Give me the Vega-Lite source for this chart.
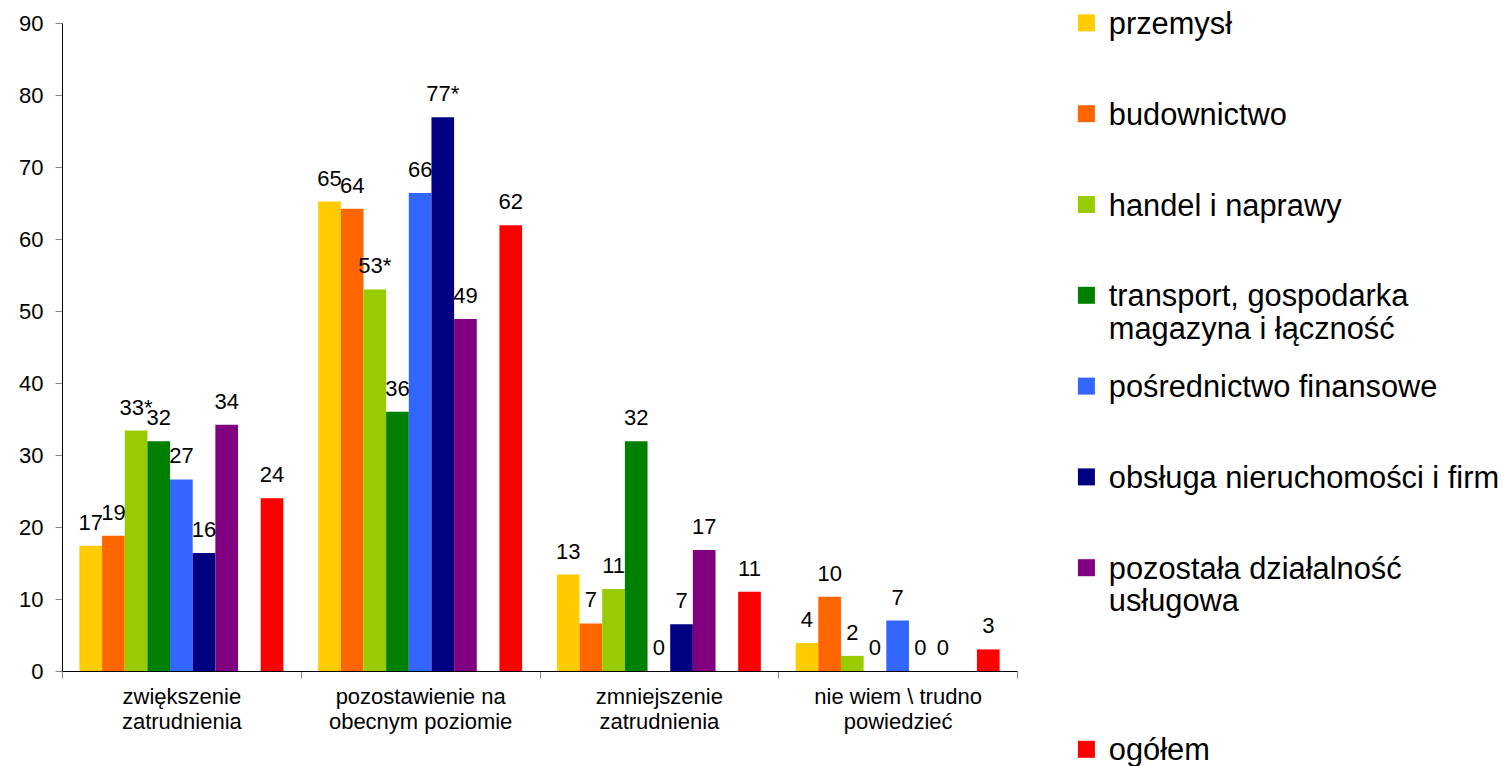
{
  "$schema": "https://vega.github.io/schema/vega-lite/v6.json",
  "width": 955,
  "height": 648,
  "autosize": {"type": "none"},
  "padding": {"left": 62, "top": 23, "right": 487, "bottom": 95},
  "background": "white",
  "data": {
    "values": [
      {"category": "zwiększenie\nzatrudnienia", "series": "przemysł", "value": 17.4, "label": "17"},
      {"category": "zwiększenie\nzatrudnienia", "series": "budownictwo", "value": 18.8, "label": "19"},
      {"category": "zwiększenie\nzatrudnienia", "series": "handel i naprawy", "value": 33.4, "label": "33*"},
      {"category": "zwiększenie\nzatrudnienia", "series": "transport, gospodarka magazyna i łączność", "value": 31.9, "label": "32"},
      {"category": "zwiększenie\nzatrudnienia", "series": "pośrednictwo finansowe", "value": 26.6, "label": "27"},
      {"category": "zwiększenie\nzatrudnienia", "series": "obsługa nieruchomości i firm", "value": 16.4, "label": "16"},
      {"category": "zwiększenie\nzatrudnienia", "series": "pozostała działalność usługowa", "value": 34.2, "label": "34"},
      {"category": "zwiększenie\nzatrudnienia", "series": "ogółem", "value": 24.0, "label": "24"},
      {"category": "pozostawienie na\nobecnym poziomie", "series": "przemysł", "value": 65.2, "label": "65"},
      {"category": "pozostawienie na\nobecnym poziomie", "series": "budownictwo", "value": 64.2, "label": "64"},
      {"category": "pozostawienie na\nobecnym poziomie", "series": "handel i naprawy", "value": 53.0, "label": "53*"},
      {"category": "pozostawienie na\nobecnym poziomie", "series": "transport, gospodarka magazyna i łączność", "value": 36.0, "label": "36"},
      {"category": "pozostawienie na\nobecnym poziomie", "series": "pośrednictwo finansowe", "value": 66.4, "label": "66"},
      {"category": "pozostawienie na\nobecnym poziomie", "series": "obsługa nieruchomości i firm", "value": 76.9, "label": "77*"},
      {"category": "pozostawienie na\nobecnym poziomie", "series": "pozostała działalność usługowa", "value": 48.9, "label": "49"},
      {"category": "pozostawienie na\nobecnym poziomie", "series": "ogółem", "value": 61.9, "label": "62"},
      {"category": "zmniejszenie\nzatrudnienia", "series": "przemysł", "value": 13.4, "label": "13"},
      {"category": "zmniejszenie\nzatrudnienia", "series": "budownictwo", "value": 6.6, "label": "7"},
      {"category": "zmniejszenie\nzatrudnienia", "series": "handel i naprawy", "value": 11.4, "label": "11"},
      {"category": "zmniejszenie\nzatrudnienia", "series": "transport, gospodarka magazyna i łączność", "value": 31.9, "label": "32"},
      {"category": "zmniejszenie\nzatrudnienia", "series": "pośrednictwo finansowe", "value": 0, "label": "0"},
      {"category": "zmniejszenie\nzatrudnienia", "series": "obsługa nieruchomości i firm", "value": 6.5, "label": "7"},
      {"category": "zmniejszenie\nzatrudnienia", "series": "pozostała działalność usługowa", "value": 16.8, "label": "17"},
      {"category": "zmniejszenie\nzatrudnienia", "series": "ogółem", "value": 11.0, "label": "11"},
      {"category": "nie wiem \\ trudno\npowiedzieć", "series": "przemysł", "value": 3.9, "label": "4"},
      {"category": "nie wiem \\ trudno\npowiedzieć", "series": "budownictwo", "value": 10.3, "label": "10"},
      {"category": "nie wiem \\ trudno\npowiedzieć", "series": "handel i naprawy", "value": 2.1, "label": "2"},
      {"category": "nie wiem \\ trudno\npowiedzieć", "series": "transport, gospodarka magazyna i łączność", "value": 0, "label": "0"},
      {"category": "nie wiem \\ trudno\npowiedzieć", "series": "pośrednictwo finansowe", "value": 7.0, "label": "7"},
      {"category": "nie wiem \\ trudno\npowiedzieć", "series": "obsługa nieruchomości i firm", "value": 0, "label": "0"},
      {"category": "nie wiem \\ trudno\npowiedzieć", "series": "pozostała działalność usługowa", "value": 0, "label": "0"},
      {"category": "nie wiem \\ trudno\npowiedzieć", "series": "ogółem", "value": 3.0, "label": "3"}
    ]
  },
  "encoding": {
    "x": {
      "field": "category",
      "type": "nominal",
      "sort": null,
      "scale": {"paddingInner": 0, "paddingOuter": 0},
      "axis": {
        "title": null,
        "labelAngle": 0,
        "labelExpr": "split(datum.label, '\\n')",
        "labelFont": "Liberation Sans",
        "labelFontSize": 22,
        "labelColor": "black",
        "labelLineHeight": 25,
        "labelPadding": 8,
        "labelLimit": 400,
        "tickBand": "extent",
        "tickSize": 7,
        "tickColor": "#888888",
        "domainColor": "black",
        "grid": false
      }
    },
    "xOffset": {
      "field": "series",
      "type": "nominal",
      "scale": {
        "domain": ["przemysł", "budownictwo", "handel i naprawy", "transport, gospodarka magazyna i łączność", "pośrednictwo finansowe", "obsługa nieruchomości i firm", "pozostała działalność usługowa", " ", "ogółem"],
        "paddingInner": 0,
        "paddingOuter": 0.768
      }
    },
    "y": {
      "field": "value",
      "type": "quantitative",
      "scale": {"domain": [0, 90], "nice": false},
      "axis": {
        "title": null,
        "values": [0, 10, 20, 30, 40, 50, 60, 70, 80, 90],
        "labelFont": "Liberation Sans",
        "labelFontSize": 22,
        "labelColor": "black",
        "labelPadding": 12,
        "tickSize": 7,
        "tickColor": "#888888",
        "domainColor": "black",
        "grid": false
      }
    }
  },
  "layer": [
    {
      "mark": {"type": "bar"},
      "encoding": {
        "color": {
          "field": "series",
          "type": "nominal",
          "scale": {
            "domain": ["przemysł", "budownictwo", "handel i naprawy", "transport, gospodarka magazyna i łączność", "pośrednictwo finansowe", "obsługa nieruchomości i firm", "pozostała działalność usługowa", " ", "ogółem"],
            "range": ["#FFCC00", "#FF6600", "#99CC00", "#008000", "#3366FF", "#000080", "#800080", "transparent", "#FF0000"]
          },
          "legend": {
            "orient": "none",
            "legendX": 1009,
            "legendY": -15.5,
            "title": null,
            "padding": 0,
            "symbolType": "square",
            "symbolSize": 289,
            "symbolStrokeWidth": 0,
            "symbolOpacity": 1,
            "labelFont": "Liberation Sans",
            "labelFontSize": 30.8,
            "labelColor": "black",
            "labelLimit": 500,
            "labelOffset": 7,
            "labelBaseline": "alphabetic",
            "labelLineHeight": 36,
            "gridAlign": "all",
            "rowPadding": 25.8,
            "labelExpr": "datum.label == 'transport, gospodarka magazyna i łączność' ? ['transport, gospodarka', 'magazyna i łączność'] : datum.label == 'pozostała działalność usługowa' ? ['pozostała działalność', 'usługowa'] : datum.label",
            "encode": {"labels": {"update": {"dy": {"value": 11}}}}
          }
        }
      }
    },
    {
      "mark": {"type": "text", "dy": -16, "baseline": "alphabetic", "align": "center", "font": "Liberation Sans", "fontSize": 22, "color": "black"},
      "encoding": {"text": {"field": "label"}}
    }
  ],
  "config": {"view": {"stroke": null}}
}
